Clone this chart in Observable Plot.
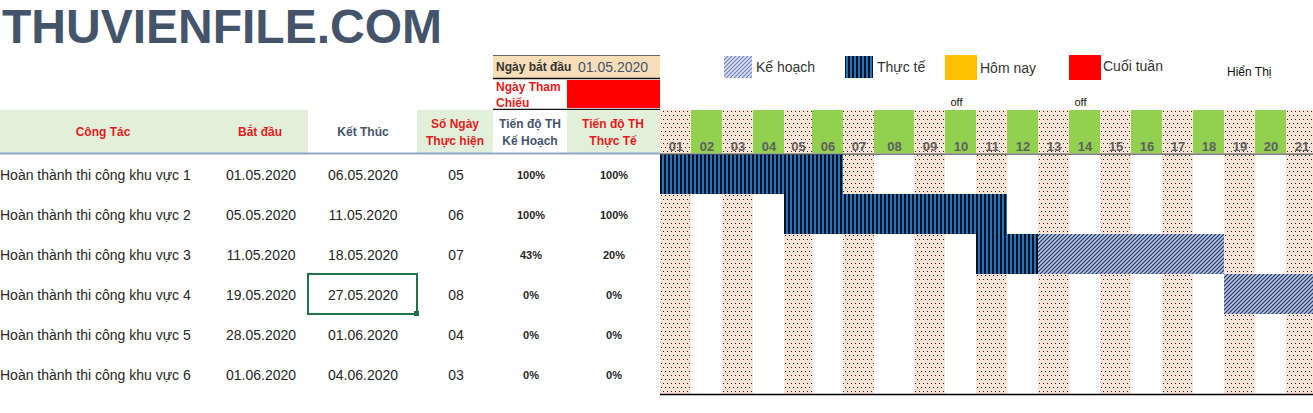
<!DOCTYPE html>
<html>
<head>
<meta charset="utf-8">
<script src="https://cdn.jsdelivr.net/npm/d3@7"></script>
<script src="https://cdn.jsdelivr.net/npm/@observablehq/plot@0.6"></script>
<style>
  body { margin: 0; background: #fff; font-family: "Liberation Sans", Arial, sans-serif; }
  #page { position: relative; width: 1313px; height: 413px; overflow: hidden; background: #fff; }
  #overlay { position: absolute; left: 0; top: 0; }
  #gantt { position: absolute; left: 660px; top: 90px; width: 653px; height: 306px; overflow: hidden; }
  #gantt svg { overflow: hidden; }
</style>
</head>
<body>
<svg width="0" height="0" style="position:absolute">
  <defs>
    <pattern id="dots" width="4" height="8" patternUnits="userSpaceOnUse">
      <rect width="4" height="8" fill="#FCE4D6"/>
      <rect x="1" y="1" width="1" height="1" fill="#1a1a1a"/>
      <rect x="3" y="5" width="1" height="1" fill="#1a1a1a"/>
    </pattern>
    <pattern id="stripes" width="4" height="4" patternUnits="userSpaceOnUse">
      <rect width="4" height="4" fill="#1F76C2"/>
      <rect width="2" height="4" fill="#0B0F18"/>
    </pattern>
    <pattern id="hatch" width="4" height="4" patternUnits="userSpaceOnUse">
      <rect width="4" height="4" fill="#B4C6E7"/>
      <path d="M-1,1 L1,-1 M0,4 L4,0 M3,5 L5,3" stroke="#1F2D55" stroke-width="1.1"/>
    </pattern>
    <pattern id="hatchLegend" width="4" height="4" patternUnits="userSpaceOnUse">
      <rect width="4" height="4" fill="#DCE1F3"/>
      <path d="M-1,1 L1,-1 M0,4 L4,0 M3,5 L5,3" stroke="#6F80BE" stroke-width="1.2"/>
    </pattern>
  </defs>
</svg>
<div id="page">
  <svg id="overlay" width="1313" height="413"></svg>
  <div id="gantt"></div>
</div>
<script>
// ---------------- DATA ----------------
const title = "THUVIENFILE.COM";
const headers = ["Công Tác", "Bắt đầu", "Kết Thúc", "Số Ngày|Thực hiện", "Tiến độ TH|Kế Hoạch", "Tiến độ TH|Thực Tế"];
const tasks = [
  "Hoàn thành thi công khu vực 1",
  "Hoàn thành thi công khu vực 2",
  "Hoàn thành thi công khu vực 3",
  "Hoàn thành thi công khu vực 4",
  "Hoàn thành thi công khu vực 5",
  "Hoàn thành thi công khu vực 6"
];
const startDates = ["01.05.2020", "05.05.2020", "11.05.2020", "19.05.2020", "28.05.2020", "01.06.2020"];
const endDates = ["06.05.2020", "11.05.2020", "18.05.2020", "27.05.2020", "01.06.2020", "04.06.2020"];
const durations = ["05", "06", "07", "08", "04", "03"];
const planProgress = ["100%", "100%", "43%", "0%", "0%", "0%"];
const actualProgress = ["100%", "100%", "20%", "0%", "0%", "0%"];
const projectStartLabel = "Ngày bắt đầu";
const projectStart = "01.05.2020";
const referenceLabel = ["Ngày Tham", "Chiếu"];
const legendLabels = ["Kế hoạch", "Thực tế", "Hôm nay", "Cuối tuần"];
const displayLabel = "Hiển Thị";

const dayLabels = ["01","02","03","04","05","06","07","08","09","10","11","12","13","14","15","16","17","18","19","20","21"];
const dottedDays = ["01","03","05","07","09","11","13","15","17","19","21"];
const offDays = ["10", "14"];

// Gantt segments (day of May)
const barTaskIndex = [0, 1, 2, 2, 3];
const barKind = ["Thực tế", "Thực tế", "Thực tế", "Kế hoạch", "Kế hoạch"];
const barFromDay = [1, 5, 11, 13, 19];
const barToDay = [6, 11, 12, 18, 27];

// ---------------- STATIC TABLE / HEADER (SVG text) ----------------
const RED = "#E31B1B", SLATE = "#44546A", INK = "#262626";
const ov = d3.select("#overlay");
function txt(x, y, s, o = {}) {
  return ov.append("text").attr("x", x).attr("y", y).text(s)
    .attr("font-family", "Liberation Sans, Arial, sans-serif")
    .attr("font-size", o.size || 14)
    .attr("font-weight", o.bold ? "bold" : "normal")
    .attr("fill", o.fill || INK)
    .attr("text-anchor", o.anchor || "start");
}
// title
txt(2, 43, title, { size: 48, bold: true, fill: SLATE });

// start-date box
ov.append("rect").attr("x", 493).attr("y", 55).attr("width", 167).attr("height", 23).attr("fill", "#F8DDB9");
ov.append("line").attr("x1", 493).attr("x2", 660).attr("y1", 55.5).attr("y2", 55.5).attr("stroke", "#666");
ov.append("line").attr("x1", 493).attr("x2", 660).attr("y1", 78.5).attr("y2", 78.5).attr("stroke", "#111").attr("stroke-width", 1.5);
txt(496, 71, projectStartLabel, { size: 12, bold: true, fill: "#333" });
txt(613, 72, projectStart, { size: 14, fill: SLATE, anchor: "middle" });
ov.append("rect").attr("x", 567).attr("y", 80).attr("width", 93).attr("height", 28).attr("fill", "#FF0000");
txt(496, 91, referenceLabel[0], { size: 12, bold: true, fill: RED });
txt(496, 107, referenceLabel[1], { size: 12, bold: true, fill: RED });
ov.append("line").attr("x1", 493).attr("x2", 660).attr("y1", 109.5).attr("y2", 109.5).attr("stroke", "#111").attr("stroke-width", 1.5);

// legend
const legendSwatch = [
  { x: 724, y: 56, w: 28, h: 22, fill: "url(#hatchLegend)", tx: 756, ty: 72 },
  { x: 845, y: 56, w: 28, h: 22, fill: "url(#stripes)", tx: 877, ty: 72 },
  { x: 945, y: 55, w: 32, h: 25, fill: "#FFC000", tx: 980, ty: 73 },
  { x: 1069, y: 55, w: 32, h: 25, fill: "#FF0000", tx: 1103, ty: 71 }
];
legendLabels.forEach((l, i) => {
  const s = legendSwatch[i];
  ov.append("rect").attr("x", s.x).attr("y", s.y).attr("width", s.w).attr("height", s.h).attr("fill", s.fill);
  txt(s.tx, s.ty, l, { size: 14, fill: "#333" });
});
txt(1227, 76, displayLabel, { size: 12, fill: "#111" });

// table header
const colBg = [[0, 308, "#E2EFDA"], [308, 417, "#fff"], [417, 493, "#E2EFDA"], [493, 567, "#fff"], [567, 660, "#E2EFDA"]];
colBg.forEach(([a, b, c]) => ov.append("rect").attr("x", a).attr("y", 110).attr("width", b - a).attr("height", 43).attr("fill", c));
const headCx = [103, 260, 363, 455, 530, 613];
const headColor = [RED, RED, SLATE, RED, SLATE, RED];
headers.forEach((h, i) => {
  const parts = h.split("|");
  if (parts.length === 1) txt(headCx[i], 136, parts[0], { size: 12, bold: true, fill: headColor[i], anchor: "middle" });
  else {
    txt(headCx[i], 128, parts[0], { size: 12, bold: true, fill: headColor[i], anchor: "middle" });
    txt(headCx[i], 145, parts[1], { size: 12, bold: true, fill: headColor[i], anchor: "middle" });
  }
});
ov.append("line").attr("x1", 0).attr("x2", 660).attr("y1", 153.5).attr("y2", 153.5).attr("stroke", "#8EA9C8").attr("stroke-width", 2);

// table rows
tasks.forEach((t, i) => {
  const base = 180 + 40 * i;
  txt(0, base, t, { size: 14 });
  txt(261, base, startDates[i], { size: 14, anchor: "middle" });
  txt(363, base, endDates[i], { size: 14, anchor: "middle" });
  txt(456, base, durations[i], { size: 14, anchor: "middle" });
  txt(531, base - 1, planProgress[i], { size: 11, bold: true, anchor: "middle" });
  txt(614, base - 1, actualProgress[i], { size: 11, bold: true, anchor: "middle" });
});
// selected cell
ov.append("rect").attr("x", 308).attr("y", 274).attr("width", 109).attr("height", 40)
  .attr("fill", "none").attr("stroke", "#217346").attr("stroke-width", 2);
ov.append("rect").attr("x", 414).attr("y", 311).attr("width", 5).attr("height", 5).attr("fill", "#217346");

// ---------------- GANTT (Observable Plot) ----------------
const cols = dayLabels.map(d => ({ label: d, day: +d, dotted: dottedDays.includes(d) }));
const bars = barTaskIndex.map((r, i) => ({ row: r, kind: barKind[i], from: barFromDay[i], to: barToDay[i] }));
const offs = offDays.map(d => ({ day: +d, text: "off" }));

const gantt = Plot.plot({
  width: 653,
  height: 306,
  margin: 0,
  style: { fontFamily: "Liberation Sans, Arial, sans-serif", background: "transparent", overflow: "hidden" },
  x: { type: "linear", domain: [1, 5, 6, 8, 9, 22], range: [0, 124, 152, 214, 254, 657], axis: null },
  y: { type: "linear", domain: [-1.6, 6.05], range: [0, 306], axis: null },
  marks: [
    Plot.rect(cols.filter(d => d.dotted), { x1: "day", x2: d => d.day + 1, y1: -1.1, y2: 6, fill: "url(#dots)" }),
    Plot.rect(cols.filter(d => !d.dotted), { x1: "day", x2: d => d.day + 1, y1: -1.1, y2: -0.02, fill: "#92D050" }),
    Plot.rect(bars.filter(d => d.kind === "Thực tế"), { x1: "from", x2: d => d.to + 1, y1: "row", y2: d => d.row + 1, fill: "url(#stripes)" }),
    Plot.rect(bars.filter(d => d.kind === "Kế hoạch"), { x1: "from", x2: d => d.to + 1, y1: "row", y2: d => d.row + 1, fill: "url(#hatch)" }),
    Plot.ruleY([-0.01], { stroke: "#555", strokeWidth: 1.2 }),
    Plot.ruleY([6], { stroke: "#000", strokeWidth: 1.5 }),
    Plot.text(cols, { x: d => d.day + 0.5, y: -0.2, text: "label", fontSize: 13, fontWeight: "bold", fill: "#5f5f5f" }),
    Plot.text(offs, { x: "day", y: -1.3, text: "text", dx: 5, textAnchor: "start", fontSize: 11, fill: "#111" })
  ]
});
document.getElementById("gantt").appendChild(gantt);
</script>
</body>
</html>
